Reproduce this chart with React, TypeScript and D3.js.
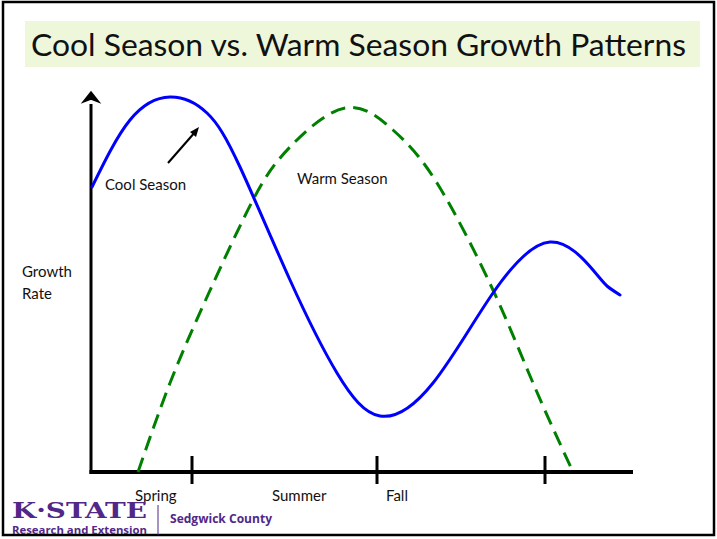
import { useEffect, useRef } from 'react';
import * as d3 from 'd3';

// x: position along the season axis, y: relative growth rate
const coolX = [1, 39, 79, 116, 149, 199, 246, 289, 342, 402, 459, 502, 516, 529];
const coolY = [285, 352, 375, 359, 305, 192, 99, 56, 89, 179, 230, 202, 186, 177];

const warmX = [47, 79, 116, 162, 199, 254, 302, 346, 402, 442, 482];
const warmY = [0, 89, 175, 272, 325, 364, 342, 289, 182, 89, 0];

const tickValues = [101, 286, 454];
const seasonLabels = ['Spring', 'Summer', 'Fall'];
const seasonLabelX = [44, 181, 295];

const title = 'Cool Season vs. Warm Season Growth Patterns';

export default function App() {
  const svgRef = useRef<SVGSVGElement>(null);
  const width = 717;
  const height = 539;

  useEffect(() => {
    if (!svgRef.current) return;
    const svg = d3.select(svgRef.current);
    svg.selectAll('*').remove();

    const font = 'Lato, "Open Sans", sans-serif';

    // frame
    svg.append('rect')
      .attr('width', width).attr('height', height).attr('fill', '#fff');
    svg.append('rect')
      .attr('x', 3).attr('y', 2).attr('width', 711).attr('height', 533)
      .attr('fill', 'none').attr('stroke', '#000').attr('stroke-width', 2.5);

    // title band
    svg.append('rect')
      .attr('x', 25).attr('y', 21).attr('width', 675).attr('height', 46)
      .attr('fill', '#eef7da');
    svg.append('text')
      .attr('x', 31).attr('y', 56)
      .attr('textLength', 655).attr('lengthAdjust', 'spacingAndGlyphs')
      .style('font-family', font)
      .style('font-size', '31px')
      .style('fill', '#111')
      .text(title);

    const x = d3.scaleLinear().domain([0, 542]).range([91, 633]);
    const y = d3.scaleLinear().domain([0, 380]).range([472, 92]);

    // axes
    svg.append('line')
      .attr('x1', x(0)).attr('x2', x(0)).attr('y1', y(0) + 2).attr('y2', y(368))
      .attr('stroke', '#000').attr('stroke-width', 3);
    svg.append('path')
      .attr('d', `M${x(0)},${y(380)} L${x(0) - 8},${y(370)} L${x(0)},${y(373)} L${x(0) + 8},${y(370)} Z`)
      .attr('fill', '#000').attr('stroke', '#000').attr('stroke-width', 1.5);
    svg.append('line')
      .attr('x1', x(0) - 1.5).attr('x2', x(542)).attr('y1', y(0)).attr('y2', y(0))
      .attr('stroke', '#000').attr('stroke-width', 4);
    svg.selectAll('.tick')
      .data(tickValues)
      .join('line')
      .attr('x1', d => x(d)).attr('x2', d => x(d))
      .attr('y1', y(0) - 16).attr('y2', y(0) + 12)
      .attr('stroke', '#000').attr('stroke-width', 3);

    svg.selectAll('.season')
      .data(seasonLabels)
      .join('text')
      .attr('x', (_, i) => x(seasonLabelX[i]))
      .attr('y', 501)
      .style('font-family', font)
      .style('font-size', '15px')
      .style('fill', '#111')
      .text(d => d);

    const ylab = svg.append('text')
      .style('font-family', font).style('font-size', '15px').style('fill', '#111');
    ylab.append('tspan').attr('x', 22).attr('y', 277).text('Growth');
    ylab.append('tspan').attr('x', 22).attr('y', 299).text('Rate');

    // series
    const line = d3.line<[number, number]>()
      .x(d => x(d[0]))
      .y(d => y(d[1]))
      .curve(d3.curveNatural);

    const warm = warmX.map((v, i) => [v, warmY[i]] as [number, number]);
    const cool = coolX.map((v, i) => [v, coolY[i]] as [number, number]);

    svg.append('path')
      .attr('d', line(warm))
      .attr('fill', 'none')
      .attr('stroke', '#008000')
      .attr('stroke-width', 3)
      .attr('stroke-dasharray', '15 8');

    svg.append('path')
      .attr('d', line(cool))
      .attr('fill', 'none')
      .attr('stroke', '#0000ff')
      .attr('stroke-width', 3)
      .attr('stroke-linecap', 'round');

    // annotations
    svg.append('line')
      .attr('x1', 168).attr('y1', 163).attr('x2', 196).attr('y2', 131)
      .attr('stroke', '#000').attr('stroke-width', 2);
    svg.append('path')
      .attr('d', 'M199,127 L190,132 L196,137 Z')
      .attr('fill', '#000');
    svg.append('text')
      .attr('x', 105).attr('y', 190)
      .style('font-family', font).style('font-size', '15px').style('fill', '#111')
      .text('Cool Season');
    svg.append('text')
      .attr('x', 297).attr('y', 184)
      .style('font-family', font).style('font-size', '15px').style('fill', '#111')
      .text('Warm Season');

    // logo
    const purple = '#512888';
    svg.append('text')
      .attr('x', 12).attr('y', 518)
      .attr('textLength', 135).attr('lengthAdjust', 'spacingAndGlyphs')
      .style('font-family', '"DejaVu Serif", serif')
      .style('font-weight', 'bold')
      .style('font-size', '23px')
      .style('fill', purple)
      .text('K·STATE');
    svg.append('text')
      .attr('x', 12).attr('y', 534)
      .attr('textLength', 135).attr('lengthAdjust', 'spacingAndGlyphs')
      .style('font-family', '"Open Sans", sans-serif')
      .style('font-weight', 'bold')
      .style('font-size', '11px')
      .style('fill', purple)
      .text('Research and Extension');
    svg.append('line')
      .attr('x1', 158).attr('x2', 158).attr('y1', 505).attr('y2', 535)
      .attr('stroke', purple).attr('stroke-width', 1);
    svg.append('text')
      .attr('x', 170).attr('y', 523)
      .attr('textLength', 102).attr('lengthAdjust', 'spacingAndGlyphs')
      .style('font-family', '"Open Sans", sans-serif')
      .style('font-weight', 'bold')
      .style('font-size', '13px')
      .style('fill', purple)
      .text('Sedgwick County');
  }, []);

  return (
    <svg
      ref={svgRef}
      width={width}
      height={height}
      style={{ position: 'absolute', left: 0, top: 0, display: 'block' }}
    />
  );
}
